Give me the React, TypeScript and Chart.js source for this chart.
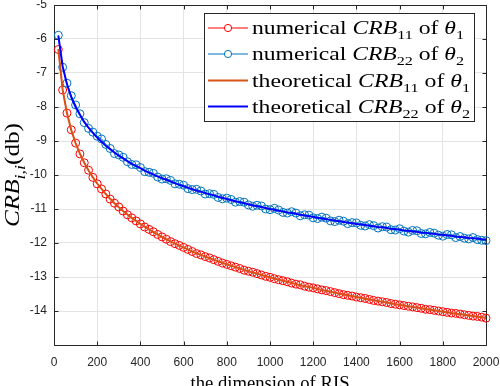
import React, { useEffect, useRef } from 'react';
import { Chart, registerables } from 'chart.js';

Chart.register(...registerables);

const dims = [
  20, 40, 60, 80, 100, 120, 140, 160, 180, 200,
  220, 240, 260, 280, 300, 320, 340, 360, 380, 400,
  420, 440, 460, 480, 500, 520, 540, 560, 580, 600,
  620, 640, 660, 680, 700, 720, 740, 760, 780, 800,
  820, 840, 860, 880, 900, 920, 940, 960, 980, 1000,
  1020, 1040, 1060, 1080, 1100, 1120, 1140, 1160, 1180, 1200,
  1220, 1240, 1260, 1280, 1300, 1320, 1340, 1360, 1380, 1400,
  1420, 1440, 1460, 1480, 1500, 1520, 1540, 1560, 1580, 1600,
  1620, 1640, 1660, 1680, 1700, 1720, 1740, 1760, 1780, 1800,
  1820, 1840, 1860, 1880, 1900, 1920, 1940, 1960, 1980, 2000,
];

const theoCRB11 = [
  -6.30, -7.49, -8.18, -8.68, -9.06, -9.37, -9.64, -9.87, -10.07, -10.25,
  -10.41, -10.56, -10.70, -10.83, -10.95, -11.06, -11.16, -11.26, -11.35, -11.44,
  -11.52, -11.60, -11.68, -11.75, -11.82, -11.89, -11.95, -12.02, -12.08, -12.13,
  -12.19, -12.25, -12.30, -12.35, -12.40, -12.45, -12.49, -12.54, -12.58, -12.63,
  -12.67, -12.71, -12.75, -12.79, -12.83, -12.87, -12.90, -12.94, -12.98, -13.01,
  -13.04, -13.08, -13.11, -13.14, -13.17, -13.21, -13.24, -13.27, -13.29, -13.32,
  -13.35, -13.38, -13.41, -13.43, -13.46, -13.49, -13.51, -13.54, -13.56, -13.59,
  -13.61, -13.64, -13.66, -13.68, -13.71, -13.73, -13.75, -13.77, -13.80, -13.82,
  -13.84, -13.86, -13.88, -13.90, -13.92, -13.94, -13.96, -13.98, -14.00, -14.02,
  -14.04, -14.06, -14.08, -14.09, -14.11, -14.13, -14.15, -14.17, -14.18, -14.20,
];

const numCRB11 = [
  -6.31, -7.50, -8.18, -8.67, -9.06, -9.38, -9.64, -9.86, -10.07, -10.26,
  -10.41, -10.56, -10.71, -10.83, -10.94, -11.06, -11.17, -11.26, -11.35, -11.44,
  -11.53, -11.60, -11.67, -11.75, -11.82, -11.89, -11.96, -12.02, -12.07, -12.13,
  -12.19, -12.25, -12.31, -12.35, -12.40, -12.44, -12.49, -12.54, -12.59, -12.63,
  -12.67, -12.71, -12.75, -12.80, -12.83, -12.86, -12.90, -12.94, -12.98, -13.01,
  -13.05, -13.08, -13.11, -13.14, -13.18, -13.21, -13.23, -13.27, -13.30, -13.32,
  -13.35, -13.38, -13.40, -13.43, -13.46, -13.49, -13.52, -13.54, -13.56, -13.59,
  -13.61, -13.63, -13.66, -13.69, -13.71, -13.73, -13.75, -13.78, -13.80, -13.82,
  -13.84, -13.86, -13.88, -13.90, -13.92, -13.95, -13.96, -13.98, -14.00, -14.02,
  -14.04, -14.06, -14.07, -14.09, -14.11, -14.13, -14.15, -14.16, -14.18, -14.21,
];

const theoCRB22 = [
  -5.90, -6.80, -7.33, -7.71, -8.00, -8.23, -8.44, -8.61, -8.76, -8.90,
  -9.02, -9.14, -9.24, -9.34, -9.43, -9.51, -9.59, -9.67, -9.74, -9.80,
  -9.87, -9.93, -9.99, -10.04, -10.09, -10.14, -10.19, -10.24, -10.29, -10.33,
  -10.37, -10.42, -10.46, -10.49, -10.53, -10.57, -10.60, -10.64, -10.67, -10.71,
  -10.74, -10.77, -10.80, -10.83, -10.86, -10.89, -10.92, -10.94, -10.97, -11.00,
  -11.02, -11.05, -11.07, -11.10, -11.12, -11.14, -11.17, -11.19, -11.21, -11.23,
  -11.26, -11.28, -11.30, -11.32, -11.34, -11.36, -11.38, -11.40, -11.42, -11.44,
  -11.45, -11.47, -11.49, -11.51, -11.53, -11.54, -11.56, -11.58, -11.59, -11.61,
  -11.63, -11.64, -11.66, -11.67, -11.69, -11.70, -11.72, -11.73, -11.75, -11.76,
  -11.78, -11.79, -11.81, -11.82, -11.83, -11.85, -11.86, -11.87, -11.89, -11.90,
];

const numCRB22 = [
  -5.89, -6.83, -7.30, -7.67, -7.94, -8.20, -8.46, -8.63, -8.74, -8.86,
  -8.94, -9.10, -9.22, -9.37, -9.41, -9.48, -9.61, -9.69, -9.70, -9.78,
  -9.90, -9.92, -9.95, -10.06, -10.12, -10.11, -10.16, -10.26, -10.27, -10.30,
  -10.40, -10.43, -10.42, -10.47, -10.56, -10.55, -10.57, -10.66, -10.70, -10.68,
  -10.72, -10.80, -10.78, -10.80, -10.88, -10.92, -10.89, -10.91, -11.00, -11.02,
  -10.98, -11.03, -11.10, -11.12, -11.08, -11.12, -11.20, -11.17, -11.18, -11.26,
  -11.28, -11.24, -11.27, -11.35, -11.37, -11.33, -11.36, -11.43, -11.40, -11.41,
  -11.48, -11.50, -11.46, -11.49, -11.56, -11.52, -11.53, -11.61, -11.62, -11.58,
  -11.65, -11.68, -11.63, -11.64, -11.72, -11.73, -11.69, -11.71, -11.77, -11.80,
  -11.75, -11.76, -11.84, -11.81, -11.86, -11.88, -11.84, -11.90, -11.92, -11.93,
];

const xTickValues = [0, 200, 400, 600, 800, 1000, 1200, 1400, 1600, 1800, 2000];
const yTickValues = [-5, -6, -7, -8, -9, -10, -11, -12, -13, -14];

const legendLabels = [
  { lead: 'numerical ', sub: '11', theta: '1' },
  { lead: 'numerical ', sub: '22', theta: '2' },
  { lead: 'theoretical ', sub: '11', theta: '1' },
  { lead: 'theoretical ', sub: '22', theta: '2' },
];

const COL_RED = '#ff0000';
const COL_LBLUE = '#0072BD';
const COL_ORANGE = '#D95319';
const COL_BLUE = '#0000ff';
const AXIS_COL = '#262626';
const SERIF = "'Liberation Serif', 'Times New Roman', serif";
const SANS = "'Liberation Sans', Arial, sans-serif";

type Part = { t: string; italic?: boolean; sub?: boolean };

function partFont(p: Part, size: number) {
  const s = p.sub ? Math.round(size * 0.7) : size;
  return `${p.italic ? 'italic ' : ''}${s}px ${SERIF}`;
}

function measureParts(ctx: CanvasRenderingContext2D, parts: Part[], size: number) {
  let w = 0;
  for (const p of parts) {
    ctx.font = partFont(p, size);
    w += ctx.measureText(p.t).width;
  }
  return w;
}

function drawParts(ctx: CanvasRenderingContext2D, parts: Part[], size: number, targetW: number) {
  const nat = measureParts(ctx, parts, size);
  const sx = targetW / nat;
  ctx.save();
  ctx.scale(sx, 1);
  let x = 0;
  for (const p of parts) {
    ctx.font = partFont(p, size);
    ctx.fillText(p.t, x, p.sub ? size * 0.27 : 0);
    x += ctx.measureText(p.t).width;
  }
  ctx.restore();
}

const decorPlugin = {
  id: 'decor',
  beforeDatasetsDraw(chart: any) {
    const { ctx, chartArea: a, scales } = chart;
    ctx.save();
    ctx.strokeStyle = AXIS_COL;
    ctx.lineWidth = 1;
    const L = Math.round(a.left) + 0.5;
    const R = Math.round(a.right) + 0.5;
    const T = Math.round(a.top) + 0.5;
    const B = Math.round(a.bottom) + 0.5;
    ctx.beginPath();
    ctx.rect(L, T, R - L, B - T);
    ctx.stroke();
    const tl = 4;
    ctx.beginPath();
    for (const v of xTickValues) {
      const px = Math.round(scales.x.getPixelForValue(v)) + 0.5;
      ctx.moveTo(px, B);
      ctx.lineTo(px, B - tl);
      ctx.moveTo(px, T);
      ctx.lineTo(px, T + tl);
    }
    for (const v of [...yTickValues, -15]) {
      const py = Math.round(scales.y.getPixelForValue(v)) + 0.5;
      ctx.moveTo(L, py);
      ctx.lineTo(L + tl, py);
      ctx.moveTo(R, py);
      ctx.lineTo(R - tl, py);
    }
    ctx.stroke();
    ctx.restore();
  },
  afterDraw(chart: any) {
    const { ctx, chartArea: a } = chart;
    ctx.save();
    ctx.fillStyle = '#000';
    ctx.textBaseline = 'alphabetic';
    ctx.textAlign = 'left';

    // legend box
    const bx = 204.5, by = 13.5, bw = 270, bh = 108;
    ctx.fillStyle = '#fff';
    ctx.fillRect(bx, by, bw, bh);
    ctx.strokeStyle = AXIS_COL;
    ctx.lineWidth = 1;
    ctx.strokeRect(bx, by, bw, bh);

    const rowY = [28, 54, 80.5, 106.5];
    const colors = [COL_RED, COL_LBLUE, COL_ORANGE, COL_BLUE];
    legendLabels.forEach((lab, i) => {
      const y = rowY[i];
      ctx.strokeStyle = colors[i];
      ctx.lineWidth = i >= 2 ? 2 : 1;
      ctx.beginPath();
      ctx.moveTo(208, y);
      ctx.lineTo(248, y);
      ctx.stroke();
      if (i < 2) {
        ctx.lineWidth = 1;
        ctx.fillStyle = '#fff';
        ctx.beginPath();
        ctx.arc(228, y, 3.6, 0, Math.PI * 2);
        ctx.fill();
        ctx.stroke();
      }
      ctx.fillStyle = '#000';
      const parts: Part[] = [
        { t: lab.lead },
        { t: 'CRB', italic: true },
        { t: lab.sub, sub: true },
        { t: ' of ' },
        { t: 'θ', italic: true },
        { t: lab.theta, sub: true },
      ];
      ctx.save();
      ctx.translate(252, y + 6);
      drawParts(ctx, parts, 19, i >= 2 ? 218 : 212);
      ctx.restore();
    });

    // x axis title
    ctx.fillStyle = '#000';
    ctx.save();
    const xtParts: Part[] = [{ t: 'the dimension of RIS' }];
    ctx.translate((a.left + a.right) / 2 - 79.5, 389);
    drawParts(ctx, xtParts, 19, 159);
    ctx.restore();

    // y axis title
    ctx.save();
    const ytParts: Part[] = [
      { t: 'CRB', italic: true },
      { t: 'i,i', italic: true, sub: true },
      { t: '(db)' },
    ];
    const cy = (a.top + a.bottom) / 2;
    ctx.translate(19, cy + 52);
    ctx.rotate(-Math.PI / 2);
    drawParts(ctx, ytParts, 21, 104);
    ctx.restore();

    ctx.restore();
  },
};

function toPoints(vals: number[]) {
  return dims.map((d, i) => ({ x: d, y: vals[i] }));
}

export default function App() {
  const ref = useRef<HTMLCanvasElement | null>(null);
  useEffect(() => {
    const canvas = ref.current;
    if (!canvas) return;
    const chart = new Chart(canvas, {
      type: 'line',
      data: {
        datasets: [
          {
            label: 'numerical CRB11 of θ1',
            data: toPoints(numCRB11),
            borderColor: COL_RED,
            backgroundColor: 'rgba(0,0,0,0)',
            borderWidth: 1,
            pointRadius: 4,
            pointBorderWidth: 1,
            pointBorderColor: COL_RED,
            pointBackgroundColor: 'rgba(0,0,0,0)',
            order: 3,
            clip: false as any,
          },
          {
            label: 'numerical CRB22 of θ2',
            data: toPoints(numCRB22),
            borderColor: COL_LBLUE,
            backgroundColor: 'rgba(0,0,0,0)',
            borderWidth: 1,
            pointRadius: 4,
            pointBorderWidth: 1,
            pointBorderColor: COL_LBLUE,
            pointBackgroundColor: 'rgba(0,0,0,0)',
            order: 2,
            clip: false as any,
          },
          {
            label: 'theoretical CRB11 of θ1',
            data: toPoints(theoCRB11),
            borderColor: COL_ORANGE,
            borderWidth: 2,
            pointRadius: 0,
            order: 1,
            clip: false as any,
          },
          {
            label: 'theoretical CRB22 of θ2',
            data: toPoints(theoCRB22),
            borderColor: COL_BLUE,
            borderWidth: 2,
            pointRadius: 0,
            order: 0,
            clip: false as any,
          },
        ],
      },
      options: {
        responsive: false,
        animation: false,
        layout: { padding: { left: 0, top: 4, right: 14, bottom: 0 } },
        plugins: {
          legend: { display: false },
          tooltip: { enabled: false },
          title: { display: false },
        },
        elements: { line: { tension: 0 } },
        scales: {
          x: {
            type: 'linear',
            min: 0,
            max: 2000,
            afterBuildTicks: (s: any) => {
              s.ticks = xTickValues.map((v) => ({ value: v }));
            },
            ticks: {
              color: AXIS_COL,
              font: { family: SANS, size: 12 },
              padding: 10,
              maxRotation: 0,
              autoSkip: false,
              callback: (v: any) => String(v),
            },
            grid: { color: '#e4e4e4', lineWidth: 1, drawTicks: false },
            border: { display: false },
            afterFit: (s: any) => {
              s.height = 41;
              s.paddingLeft = 0;
              s.paddingRight = 0;
            },
          },
          y: {
            type: 'linear',
            min: -15,
            max: -5,
            afterBuildTicks: (s: any) => {
              s.ticks = [-15, ...yTickValues.slice().reverse()].map((v) => ({ value: v }));
            },
            ticks: {
              color: AXIS_COL,
              font: { family: SANS, size: 12 },
              padding: 7,
              autoSkip: false,
              callback: (v: any) => (v === -15 ? '' : String(v)),
            },
            grid: { color: '#e4e4e4', lineWidth: 1, drawTicks: false },
            border: { display: false },
            afterFit: (s: any) => {
              s.width = 54;
              s.paddingTop = 0;
              s.paddingBottom = 0;
            },
          },
        },
      },
      plugins: [decorPlugin],
    });
    return () => chart.destroy();
  }, []);

  return (
    <div style={{ position: 'fixed', left: 0, top: 0, width: 500, height: 386, background: '#fff' }}>
      <canvas ref={ref} width={500} height={386} style={{ display: 'block' }} />
    </div>
  );
}
